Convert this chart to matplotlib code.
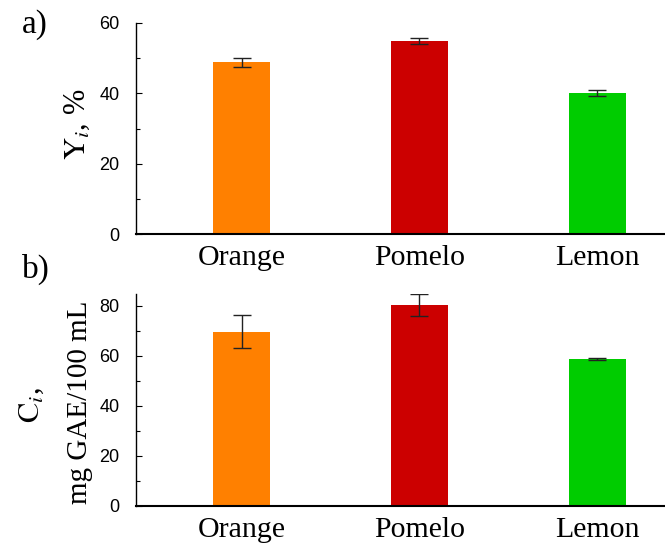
import matplotlib
matplotlib.use("Agg")
import matplotlib.pyplot as plt
from matplotlib.ticker import MultipleLocator

plt.rcParams['mathtext.fontset'] = 'stix'

fruits = ["Orange", "Pomelo", "Lemon"]
colors = ["#FF8000", "#CC0000", "#00CC00"]

# a) yield, %
yield_vals = [48.8, 54.9, 40.1]
yield_err = [1.3, 0.8, 0.75]

# b) concentration, mg GAE/100 mL
conc_vals = [69.7, 80.4, 58.7]
conc_err = [6.7, 4.5, 0.5]

fig = plt.figure(figsize=(6.65, 5.45), dpi=100)
ax_a = fig.add_axes([0.2045, 0.5706, 0.7955, 0.3872])
ax_b = fig.add_axes([0.2045, 0.0716, 0.7955, 0.3890])

serif = 'Liberation Serif'
sans = 'Liberation Sans'


def style(ax, vals, errs, ymax, step):
    x = range(len(fruits))
    ax.bar(x, vals, width=0.32, color=colors)
    ax.errorbar(x, vals, yerr=errs, fmt='none', ecolor='#222222',
                elinewidth=1, capsize=6.5, capthick=1)
    ax.set_xlim(-0.593, 2.38)
    ax.set_ylim(0, ymax)
    ax.yaxis.set_major_locator(MultipleLocator(step))
    ax.yaxis.set_minor_locator(MultipleLocator(step / 2))
    ax.spines['top'].set_visible(False)
    ax.spines['right'].set_visible(False)
    ax.spines['left'].set_linewidth(1.0)
    ax.spines['bottom'].set_linewidth(1.5)
    ax.tick_params(axis='y', which='major', direction='in', length=4,
                   width=0.8, pad=12, labelsize=13)
    ax.tick_params(axis='y', which='minor', direction='in', length=3,
                   width=0.8)
    ax.tick_params(axis='x', length=0, pad=8)
    ax.set_xticks(list(x))
    ax.set_xticklabels(fruits, fontfamily=serif, fontsize=21.5)
    for t in ax.get_yticklabels():
        t.set_fontfamily(sans)


style(ax_a, yield_vals, yield_err, 60, 20)
style(ax_b, conc_vals, conc_err, 84.8, 20)

fig.text(0.033, 0.955, 'a)', fontfamily=serif, fontsize=24, va='center')
fig.text(0.033, 0.505, 'b)', fontfamily=serif, fontsize=24, va='center')

fig.text(0.117, 0.772, r'$\mathrm{Y}_i$, %', fontfamily=serif, fontsize=22,
         rotation=90, ha='center', va='center')
fig.text(0.048, 0.257, r'$\mathrm{C}_i$,', fontfamily=serif, fontsize=22,
         rotation=90, ha='center', va='center')
fig.text(0.120, 0.262, 'mg GAE/100 mL', fontfamily=serif, fontsize=21,
         rotation=90, ha='center', va='center')

fig.savefig('out.png', dpi=100)
